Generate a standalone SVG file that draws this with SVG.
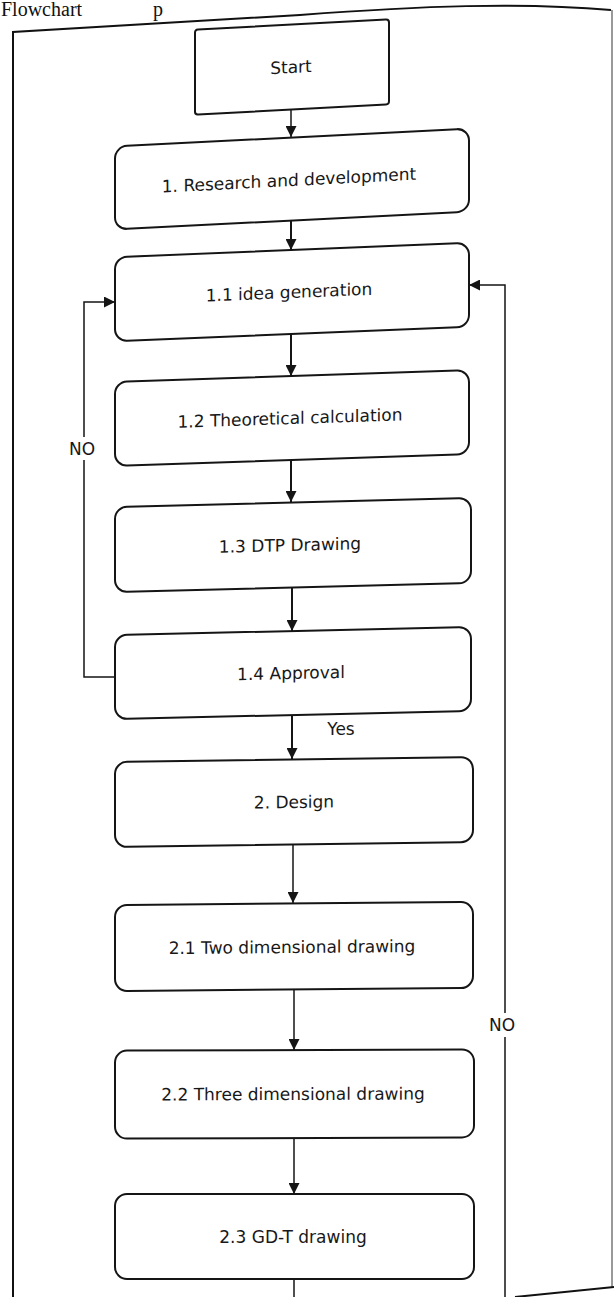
<svg xmlns="http://www.w3.org/2000/svg" width="614" height="1297" viewBox="0 0 614 1297">
<style>
.box{fill:#fff;stroke:#151515;stroke-width:2}
.lbl{font-family:"DejaVu Sans",Verdana,sans-serif;font-size:17px;fill:#181818;text-anchor:middle}
.edge{fill:none;stroke:#151515;stroke-width:2}
.thin{fill:none;stroke:#151515;stroke-width:1.5}
.frame{fill:none;stroke:#111;stroke-width:2}
.head{font-family:"Liberation Serif",serif;font-size:20px;fill:#111}
</style>
<defs>
<marker id="ah" viewBox="0 0 10 10" refX="10" refY="5" markerWidth="11" markerHeight="11" markerUnits="userSpaceOnUse" orient="auto"><path d="M0,0 L10,5 L0,10 z" fill="#151515"/></marker>
</defs>
<rect width="614" height="1297" fill="#fff"/>
<g id="page">
<text class="head" x="1" y="16">Flowchart</text>
<text class="head" x="153" y="16">p</text>
<path class="frame" d="M13,1297 V32 L300,15 C420,6 520,2 611,10"/>
<path d="M612,10 V1288" fill="none" stroke="#999" stroke-width="2"/>
<path class="frame" d="M515,1297 L614,1287"/>
</g>
<g id="connectors">
<path class="thin" d="M291,109 V137" marker-end="url(#ah)"/>
<path class="edge" stroke-width="2.5" d="M291,221 V250" marker-end="url(#ah)"/>
<path class="edge" d="M291,334 V376" marker-end="url(#ah)"/>
<path class="edge" d="M291,460 V502" marker-end="url(#ah)"/>
<path class="edge" d="M292,588 V631" marker-end="url(#ah)"/>
<path class="edge" d="M292,715 V759" marker-end="url(#ah)"/>
<path class="thin" d="M293,845 V903" marker-end="url(#ah)"/>
<path class="thin" d="M294,990 V1050" marker-end="url(#ah)"/>
<path class="thin" d="M294,1138 V1194" marker-end="url(#ah)"/>
<path class="thin" d="M294,1279 V1297"/>
<path class="thin" d="M115,677 H84 V460 M84,437 V302 H115" marker-end="url(#ah)"/>
<path class="thin" d="M505,1297 V1037 M505,1013 V285 H469" marker-end="url(#ah)"/>
<text class="lbl" x="82" y="455">NO</text>
<text class="lbl" x="502" y="1031">NO</text>
<text class="lbl" x="341" y="735">Yes</text>
</g>
<g id="start" transform="translate(292 67) skewY(-3) translate(-292 -67)">
<rect class="box" x="195" y="24.5" width="194" height="85" rx="3"/>
<text class="lbl" x="291" y="73">Start</text>
</g>
<g id="n1" transform="translate(292 179) skewY(-2.9) translate(-292 -179)">
<rect class="box" x="115" y="137.5" width="354" height="83" rx="12"/>
<text class="lbl" x="289" y="186">1. Research and development</text>
</g>
<g id="n1_1" transform="translate(292 292) skewY(-2.3) translate(-292 -292)">
<rect class="box" x="115" y="250" width="354" height="84" rx="12"/>
<text class="lbl" x="289" y="298">1.1 idea generation</text>
</g>
<g id="n1_2" transform="translate(292 418) skewY(-1.9) translate(-292 -418)">
<rect class="box" x="115" y="376" width="354" height="84" rx="12"/>
<text class="lbl" x="290" y="424">1.2 Theoretical calculation</text>
</g>
<g id="n1_3" transform="translate(293 545) skewY(-1.45) translate(-293 -545)">
<rect class="box" x="115" y="502.5" width="356" height="85" rx="12"/>
<text class="lbl" x="290" y="551">1.3 DTP Drawing</text>
</g>
<g id="n1_4" transform="translate(293 673) skewY(-1.3) translate(-293 -673)">
<rect class="box" x="115" y="631" width="356" height="84" rx="12"/>
<text class="lbl" x="291" y="679">1.4 Approval</text>
</g>
<g id="n2" transform="translate(294 802) skewY(-0.8) translate(-294 -802)">
<rect class="box" x="115" y="759.5" width="358" height="85" rx="12"/>
<text class="lbl" x="294" y="808">2. Design</text>
</g>
<g id="n2_1" transform="translate(294 946.5) skewY(-0.5) translate(-294 -946.5)">
<rect class="box" x="115" y="903.5" width="358" height="86" rx="12"/>
<text class="lbl" x="292" y="953">2.1 Two dimensional drawing</text>
</g>
<g id="n2_2" transform="translate(294 1094) skewY(-0.2) translate(-294 -1094)">
<rect class="box" x="115" y="1050" width="359" height="88" rx="12"/>
<text class="lbl" x="293" y="1100">2.2 Three dimensional drawing</text>
</g>
<g id="n2_3">
<rect class="box" x="115" y="1194" width="359" height="85" rx="12"/>
<text class="lbl" x="293" y="1243">2.3 GD-T drawing</text>
</g>
</svg>
